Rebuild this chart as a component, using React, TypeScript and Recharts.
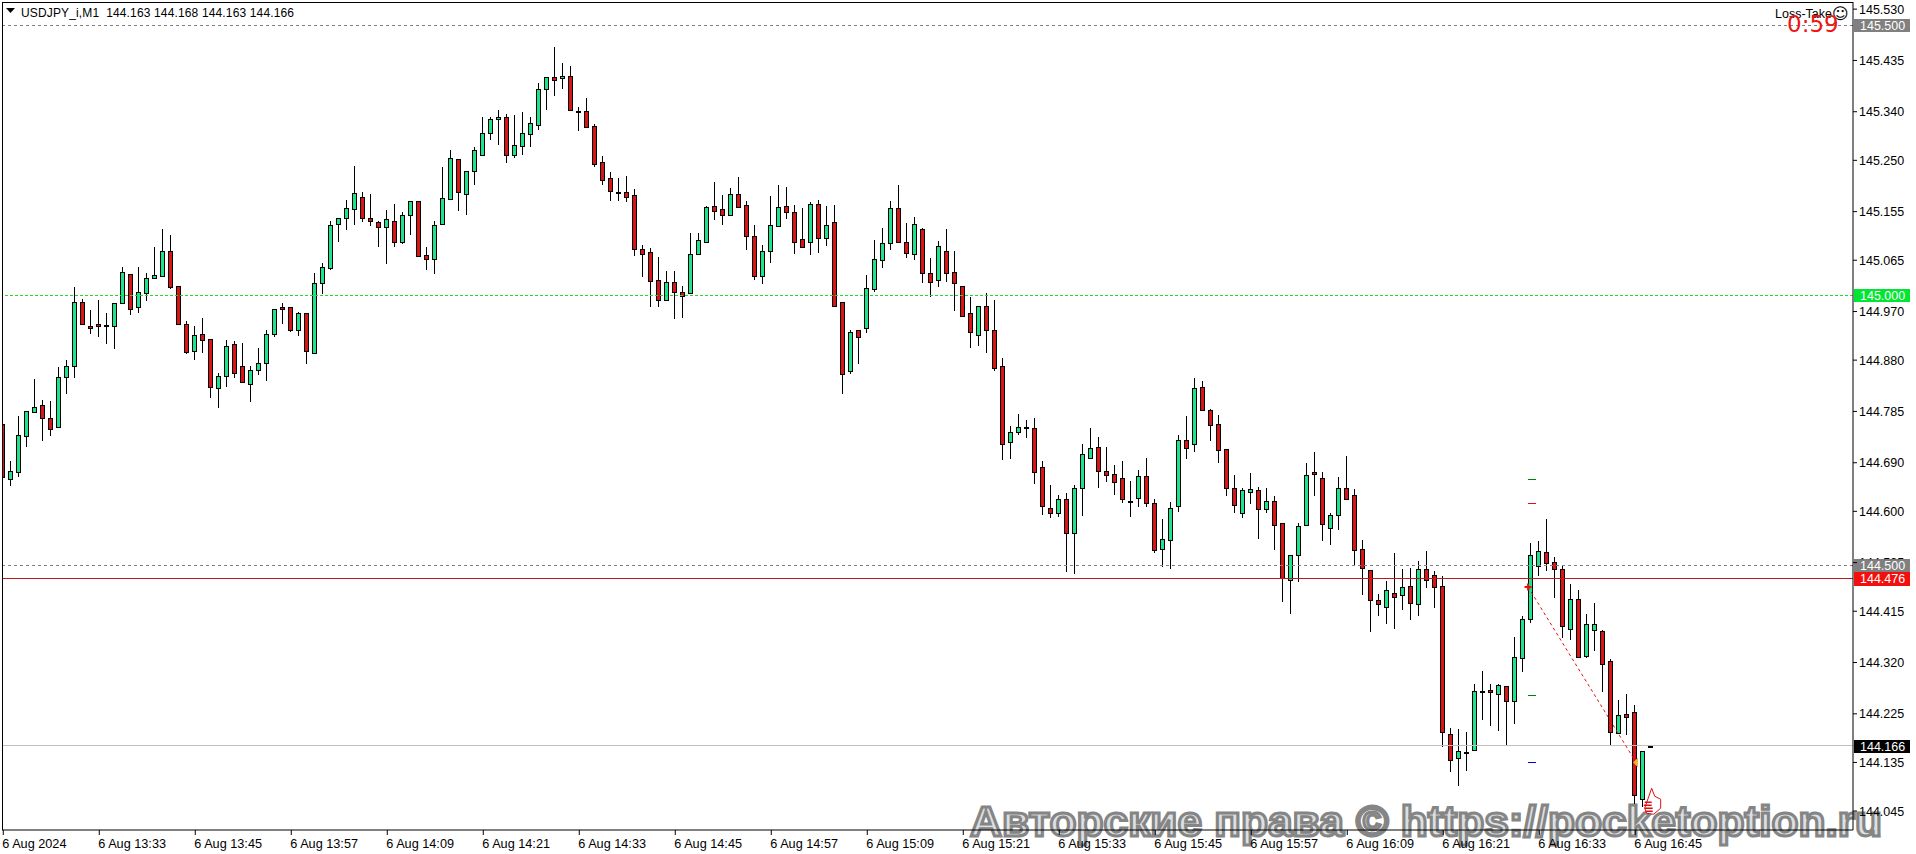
import React from "react";
import { ComposedChart, Bar, XAxis, YAxis, ReferenceLine, ReferenceDot, Scatter } from "recharts";

const title = "USDJPY_i,M1  144.163 144.168 144.163 144.166";
const watermark = "Авторские права © https://pocketoption.ru";
const priceTicks = [145.53, 145.435, 145.34, 145.25, 145.155, 145.065, 144.97, 144.88, 144.785, 144.69, 144.6, 144.505, 144.415, 144.32, 144.225, 144.135, 144.045];
const coveredTick = 144.505;
const timeTicks = [0, 12, 24, 36, 48, 60, 72, 84, 96, 108, 120, 132, 144, 156, 168, 180, 192, 204];
const timeLabels = ["6 Aug 2024", "6 Aug 13:33", "6 Aug 13:45", "6 Aug 13:57", "6 Aug 14:09", "6 Aug 14:21", "6 Aug 14:33", "6 Aug 14:45", "6 Aug 14:57", "6 Aug 15:09", "6 Aug 15:21", "6 Aug 15:33", "6 Aug 15:45", "6 Aug 15:57", "6 Aug 16:09", "6 Aug 16:21", "6 Aug 16:33", "6 Aug 16:45"];

const opens = [144.762,144.660,144.673,144.740,144.784,144.796,144.772,144.756,144.849,144.870,144.987,144.943,144.947,144.945,144.944,144.985,145.039,144.978,145.005,145.033,145.036,145.083,145.017,144.946,144.896,144.928,144.919,144.828,144.851,144.909,144.869,144.835,144.861,144.874,144.929,144.978,144.978,144.936,144.967,144.894,145.023,145.051,145.133,145.144,145.159,145.183,145.144,145.135,145.127,145.137,145.099,145.148,145.174,145.074,145.068,145.133,145.179,145.252,145.187,145.231,145.260,145.300,145.327,145.330,145.259,145.277,145.299,145.316,145.383,145.404,145.403,145.407,145.341,145.341,145.313,145.246,145.217,145.192,145.192,145.185,
145.085,145.080,145.028,144.992,145.024,145.007,145.005,145.077,145.099,145.165,145.159,145.149,145.187,145.167,145.109,145.036,145.083,145.129,145.165,145.154,145.104,145.098,145.170,145.107,145.135,144.987,144.859,144.935,144.940,145.011,145.066,145.096,145.161,145.098,145.077,145.122,145.041,145.029,145.083,145.043,145.018,144.967,144.927,144.980,144.935,144.869,144.729,144.746,144.757,144.754,144.683,144.607,144.597,144.622,144.560,144.644,144.698,144.719,144.674,144.670,144.661,144.620,144.625,144.665,144.615,144.531,144.546,144.610,144.733,144.725,144.830,144.787,144.761,144.715,144.644,144.597,144.635,144.639,144.605,144.620,
144.578,144.472,144.520,144.575,144.673,144.661,144.570,144.594,144.644,144.630,144.530,144.491,144.435,144.422,144.448,144.446,144.461,144.429,144.494,144.483,144.462,144.188,144.144,144.154,144.158,144.268,144.269,144.262,144.276,144.248,144.329,144.400,144.498,144.524,144.506,144.494,144.383,144.437,144.333,144.381,144.378,144.322,144.190,144.224,144.228,144.067,144.163];
const highs = [144.768,144.694,144.776,144.785,144.845,144.806,144.804,144.867,144.880,145.015,144.993,144.973,144.991,144.968,144.985,145.052,145.040,145.053,145.041,145.090,145.123,145.112,145.017,144.952,144.943,144.958,144.919,144.856,144.917,144.916,144.912,144.869,144.902,144.936,144.974,144.986,144.978,144.970,144.967,145.041,145.059,145.137,145.144,145.177,145.240,145.191,145.188,145.137,145.158,145.169,145.154,145.174,145.174,145.090,145.137,145.238,145.269,145.252,145.231,145.274,145.330,145.330,145.343,145.335,145.334,145.340,145.330,145.393,145.404,145.460,145.430,145.425,145.348,145.365,145.317,145.258,145.228,145.218,145.221,145.197,
145.093,145.088,145.071,145.045,145.045,145.017,145.115,145.115,145.165,145.210,145.186,145.199,145.219,145.174,145.130,145.093,145.184,145.204,145.201,145.167,145.162,145.172,145.177,145.165,145.167,144.987,144.935,144.935,145.038,145.102,145.125,145.175,145.204,145.134,145.145,145.124,145.069,145.101,145.123,145.082,145.018,144.997,144.981,145.004,144.991,144.884,144.758,144.780,144.769,144.773,144.693,144.649,144.631,144.634,144.649,144.724,144.754,144.738,144.719,144.686,144.693,144.656,144.677,144.699,144.623,144.586,144.617,144.741,144.776,144.847,144.841,144.790,144.778,144.715,144.667,144.643,144.671,144.645,144.643,144.628,
144.578,144.520,144.579,144.689,144.709,144.672,144.596,144.664,144.702,144.641,144.547,144.491,144.447,144.471,144.522,144.493,144.495,144.508,144.527,144.489,144.481,144.198,144.197,144.191,144.280,144.304,144.281,144.280,144.276,144.367,144.407,144.541,144.545,144.585,144.515,144.501,144.465,144.454,144.409,144.430,144.380,144.327,144.251,144.262,144.241,144.156,144.168];
const lows = [144.664,144.647,144.664,144.720,144.783,144.731,144.740,144.754,144.817,144.847,144.946,144.928,144.923,144.909,144.901,144.985,144.964,144.968,144.990,145.030,145.036,145.011,144.946,144.891,144.880,144.894,144.810,144.791,144.831,144.847,144.840,144.802,144.852,144.842,144.923,144.947,144.933,144.925,144.872,144.894,145.002,145.046,145.099,145.121,145.131,145.135,145.128,145.090,145.058,145.090,145.095,145.112,145.073,145.046,145.040,145.130,145.177,145.156,145.149,145.204,145.260,145.288,145.279,145.245,145.255,145.260,145.275,145.306,145.343,145.369,145.382,145.341,145.305,145.312,145.238,145.204,145.175,145.175,145.173,145.073,
145.034,144.978,144.978,144.992,144.956,144.958,145.005,145.077,145.097,145.140,145.130,145.149,145.164,145.084,145.028,145.021,145.060,145.129,145.141,145.077,145.090,145.075,145.078,145.091,144.981,144.817,144.855,144.873,144.931,145.006,145.051,145.084,145.099,145.069,145.065,145.023,144.997,145.016,145.025,144.971,144.962,144.902,144.906,144.893,144.860,144.695,144.697,144.742,144.736,144.651,144.593,144.588,144.590,144.488,144.484,144.591,144.698,144.643,144.654,144.630,144.615,144.590,144.608,144.608,144.523,144.497,144.493,144.599,144.697,144.710,144.785,144.730,144.690,144.628,144.597,144.588,144.614,144.549,144.597,144.528,
144.432,144.410,144.469,144.573,144.628,144.545,144.538,144.565,144.622,144.501,144.445,144.377,144.406,144.391,144.382,144.417,144.399,144.406,144.458,144.421,144.164,144.117,144.091,144.119,144.158,144.214,144.202,144.193,144.166,144.207,144.302,144.393,144.481,144.489,144.440,144.365,144.362,144.328,144.329,144.341,144.265,144.166,144.189,144.186,144.058,144.053,144.163];
const closes = [144.664,144.674,144.741,144.785,144.794,144.772,144.753,144.848,144.870,144.987,144.946,144.940,144.944,144.944,144.985,145.043,144.975,145.006,145.033,145.037,145.083,145.016,144.946,144.895,144.926,144.917,144.830,144.850,144.907,144.857,144.840,144.861,144.874,144.928,144.974,144.975,144.936,144.967,144.896,145.022,145.052,145.130,145.144,145.161,145.189,145.143,145.138,145.127,145.141,145.099,145.148,145.174,145.073,145.068,145.131,145.181,145.254,145.191,145.231,145.270,145.300,145.326,145.331,145.259,145.278,145.300,145.320,145.383,145.404,145.399,145.407,145.344,145.340,145.312,145.244,145.214,145.194,145.191,145.183,145.086,
145.077,145.027,144.992,145.024,145.007,144.998,145.076,145.102,145.163,145.157,145.149,145.187,145.164,145.109,145.035,145.083,145.130,145.163,145.155,145.098,145.090,145.170,145.107,145.131,144.981,144.855,144.933,144.922,145.013,145.067,145.096,145.161,145.099,145.079,145.133,145.042,145.025,145.091,145.042,145.022,144.962,144.933,144.980,144.935,144.866,144.725,144.746,144.757,144.755,144.672,144.609,144.596,144.622,144.559,144.644,144.706,144.717,144.675,144.668,144.655,144.622,144.618,144.665,144.616,144.529,144.549,144.606,144.733,144.718,144.828,144.788,144.759,144.714,144.644,144.612,144.639,144.641,144.605,144.620,144.575,
144.476,144.520,144.573,144.668,144.670,144.577,144.594,144.643,144.622,144.529,144.496,144.435,144.429,144.454,144.442,144.459,144.431,144.494,144.472,144.459,144.192,144.140,144.156,144.152,144.267,144.266,144.266,144.278,144.248,144.330,144.400,144.519,144.526,144.505,144.493,144.388,144.437,144.330,144.391,144.391,144.318,144.192,144.222,144.220,144.075,144.156,144.166];

const levelPrices = { top: 145.5, green: 145.0, mid: 144.5, bid: 144.476, last: 144.166 };
const tickDashes = [
  { x: 191, y: 144.659, color: "#008000" },
  { x: 191, y: 144.615, color: "#e01010" },
  { x: 191, y: 144.259, color: "#008000" },
  { x: 191, y: 144.135, color: "#0000c8" },
];
const tradeStart = { x: 190.6, y: 144.46 };
const tradeEnd = { x: 204.1, y: 144.135 };
const handPoint = { x: 205.8, y: 144.065 };

const candles = opens.map((o, i) => ({ x: i, o, h: highs[i], l: lows[i], c: closes[i], range: [lows[i], highs[i]] }));

const FONT = "'Liberation Sans', Arial, sans-serif";
const GREEN = "#1fe38a";
const RED = "#d81414";

function Candle(props: any) {
  const { x, y, width, height, payload } = props;
  const { o, h, l, c } = payload;
  const span = h - l || 0.001;
  const k = height / span;
  const top = y + (h - Math.max(o, c)) * k;
  const bottom = y + (h - Math.min(o, c)) * k;
  const left = Math.round(x);
  const cx = left + 2.5;
  const t = Math.round(top);
  const b = Math.max(Math.round(bottom), t + 1);
  return (
    <g shapeRendering="crispEdges">
      <line x1={cx} x2={cx} y1={Math.round(y)} y2={Math.round(y + height)} stroke="#000" strokeWidth={1} />
      <rect x={left + 0.5} y={t + 0.5} width={4} height={b - t} fill={c >= o ? GREEN : RED} stroke="#000" strokeWidth={1} />
    </g>
  );
}

function XTick(props: any) {
  const { x, y, payload } = props;
  const label = timeLabels[timeTicks.indexOf(payload.value)];
  return (
    <text x={x - 1} y={y + 11} textAnchor="start" fontFamily={FONT} fontSize={12.7} fill="#000">
      {label}
    </text>
  );
}

function YTick(props: any) {
  const { x, y, payload } = props;
  const clip = payload.value === coveredTick ? "url(#coveredTick)" : undefined;
  return (
    <g clipPath={clip}>
      {clip && (
        <clipPath id="coveredTick">
          <rect x={x - 2} y={y - 12} width={60} height={8.5} />
        </clipPath>
      )}
      <text x={x} y={y + 4.5} textAnchor="start" fontFamily={FONT} fontSize={12.5} fill="#000">
        {payload.value.toFixed(3)}
      </text>
    </g>
  );
}

function PriceTag(props: any) {
  const { viewBox, bg, fg, value, tall } = props;
  const y = Math.round(viewBox.y);
  const xr = viewBox.x + viewBox.width + 1;
  return (
    <g>
      <rect x={xr} y={y - 6} width={56} height={tall ? 14 : 13} fill={bg} shapeRendering="crispEdges" />
      <text x={xr + 6} y={y + 5} fontFamily={FONT} fontSize={12.5} fill={fg}>
        {value}
      </text>
    </g>
  );
}

function Dash(props: any) {
  const { cx, cy, payload } = props;
  return <rect x={Math.round(cx) - 3} y={Math.round(cy)} width={8} height={1} fill={payload.color} shapeRendering="crispEdges" />;
}

function Star(props: any) {
  const { cx, cy } = props;
  return <path d={`M${cx - 3.5} ${cy}H${cx + 3.5}M${cx} ${cy - 3.5}V${cy + 3.5}`} stroke="#e01010" strokeWidth={2} fill="none" />;
}

function Diamond(props: any) {
  const { cx, cy } = props;
  return <path d={`M${cx - 3} ${cy}L${cx + 2} ${cy - 5}V${cy + 5}Z`} fill="#f4b040" />;
}

function Hand(props: any) {
  const { cx, cy } = props;
  return (
    <g fill="none" stroke="#e01010" strokeWidth={1}>
      <path d={`M${cx - 5} ${cy + 8}L${cx + 2} ${cy - 12}L${cx + 5} ${cy - 4}L${cx + 11} ${cy - 1}L${cx + 11} ${cy + 8}L${cx + 4} ${cy + 14}L${cx - 3} ${cy + 13}Z`} fill="#fff" />
      <path d={`M${cx - 5} ${cy + 2}h7M${cx - 6} ${cy + 5}h8M${cx - 5} ${cy + 8}h8M${cx - 4} ${cy + 11}h7`} strokeWidth={1.4} />
    </g>
  );
}

export default function App() {
  return (
    <div style={{ position: "absolute", left: 0, top: 0, width: 1916, height: 854, background: "#fff", overflow: "hidden" }}>
      <svg width={1916} height={854} style={{ position: "absolute", left: 0, top: 0, pointerEvents: "none" }}>
        <text x={970} y={836} fontFamily={FONT} fontWeight="bold" fontSize={43} textLength={912} lengthAdjust="spacingAndGlyphs" fill="#dce0e3" stroke="#858585" strokeWidth={3}>
          {watermark}
        </text>
      </svg>
      <div style={{ position: "absolute", left: 0, top: 0 }}>
        <ComposedChart
          width={1916}
          height={854}
          data={candles}
          margin={{ top: 2, left: 2, right: 0, bottom: 0 }}
          barSize={5}
        >
          <XAxis
            dataKey="x"
            type="number"
            domain={[-0.16, 231.215]}
            allowDataOverflow
            ticks={timeTicks}
            interval={0}
            height={24}
            tickSize={5}
            tickLine={{ stroke: "#000" }}
            axisLine={{ stroke: "#000" }}
            tick={<XTick />}
          />
          <YAxis
            orientation="right"
            type="number"
            domain={[144.0099, 145.5432]}
            allowDataOverflow
            ticks={priceTicks}
            interval={0}
            width={63}
            tickSize={4}
            tickLine={{ stroke: "#000" }}
            axisLine={{ stroke: "#000" }}
            tick={<YTick />}
          />
          <ReferenceLine y={levelPrices.top} stroke="#808080" strokeDasharray="3 3" shapeRendering="crispEdges" label={<PriceTag bg="#808080" fg="#fff" value="145.500" />} />
          <ReferenceLine y={levelPrices.green} stroke="#28d828" strokeDasharray="3 2" shapeRendering="crispEdges" label={<PriceTag bg="#00e632" fg="#fff" value="145.000" />} />
          <ReferenceLine y={levelPrices.last} stroke="#c0c0c0" shapeRendering="crispEdges" label={<PriceTag bg="#000" fg="#fff" value="144.166" />} />
          <Bar dataKey="range" isAnimationActive={false} shape={<Candle />} />
          <ReferenceLine y={levelPrices.mid} stroke="#808080" strokeDasharray="3 3" shapeRendering="crispEdges" label={<PriceTag bg="#808080" fg="#fff" value="144.500" />} />
          <ReferenceLine y={levelPrices.bid} stroke="#c01818" shapeRendering="crispEdges" label={<PriceTag bg="#f40f0f" fg="#fff" value="144.476" tall />} />
          <Scatter data={tickDashes} dataKey="y" isAnimationActive={false} shape={<Dash />} />
          <ReferenceLine segment={[tradeStart, tradeEnd]} stroke="#e01010" strokeDasharray="3 3" />
          <ReferenceDot x={tradeStart.x} y={tradeStart.y} r={3} shape={<Star />} />
          <ReferenceDot x={tradeEnd.x} y={tradeEnd.y} r={3} shape={<Diamond />} />
          <ReferenceDot x={handPoint.x} y={handPoint.y} r={3} shape={<Hand />} />
        </ComposedChart>
      </div>
      <svg width={1916} height={854} style={{ position: "absolute", left: 0, top: 0, pointerEvents: "none" }}>
        <path d="M2.5 830V2.5H1853" fill="none" stroke="#000" strokeWidth={1} shapeRendering="crispEdges" />
        <path d="M6 8h9l-4.5 5z" fill="#000" />
        <text x={21} y={17} fontFamily={FONT} fontSize={12} fill="#000" xmlSpace="preserve" textLength={273} lengthAdjust="spacing">{title}</text>
        <text x={1775} y={18} fontFamily={FONT} fontSize={12.5} fill="#000">Loss-Take</text>
        <text x={1832} y={19} fontFamily="'DejaVu Sans'" fontSize={16} fill="#000">☺</text>
        <text x={1787} y={32} fontFamily="'DejaVu Sans'" fontSize={23} fill="#f01414">0:59</text>
      </svg>
    </div>
  );
}
